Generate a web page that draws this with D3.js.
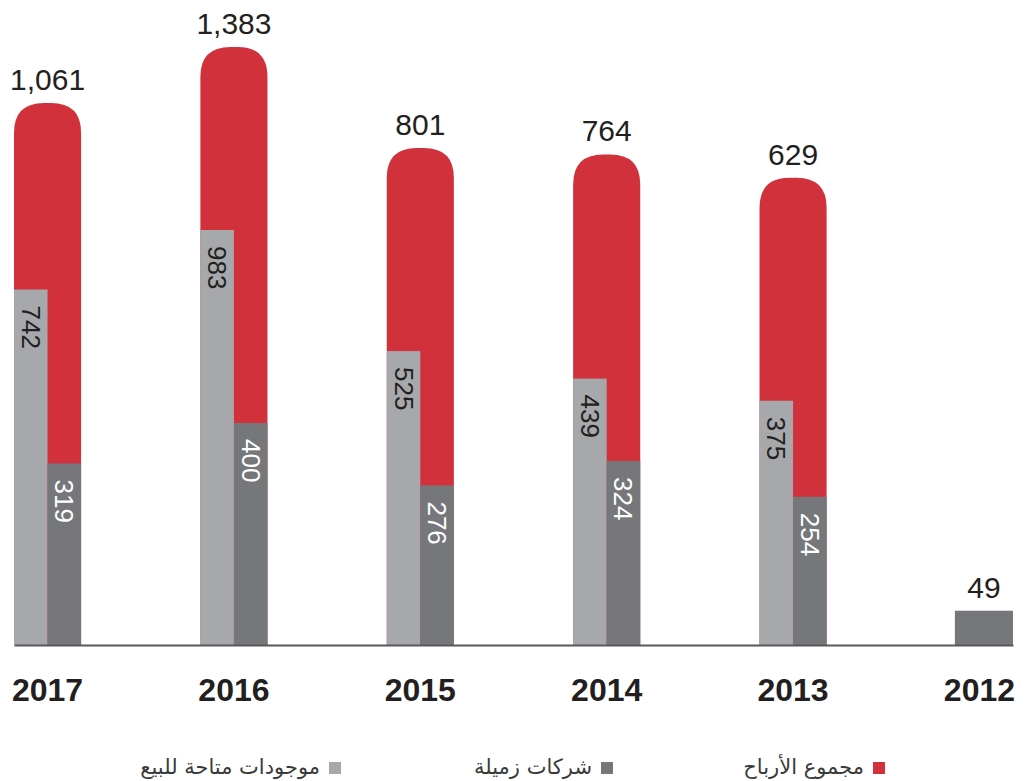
<!DOCTYPE html>
<html>
<head>
<meta charset="utf-8">
<title>مجموع الأرباح</title>
<style>
  body { margin: 0; background: #fff; }
  .axis path { stroke: #58595b; stroke-width: 2px; }
  .axis text { font-family: "Liberation Sans", Arial, sans-serif; font-weight: bold; font-size: 32px; fill: #231f20; }
</style>
</head>
<body>
<div class="container"></div>
<script src="https://cdn.jsdelivr.net/npm/d3@7"></script>
<script>

// data (left to right)
var years = ["2017", "2016", "2015", "2014", "2013", "2012"];
var totals = [1061, 1383, 801, 764, 629, 49];          // مجموع الأرباح
var available = [742, 983, 525, 439, 375, null];      // موجودات متاحة للبيع
var associates = [319, 400, 276, 324, 254, 49];       // شركات زميلة
var legendLabels = ["مجموع الأرباح", "شركات زميلة", "موجودات متاحة للبيع"];

var colRed = "#d1313b", colLight = "#a7a8ac", colDark = "#76777b";
var legendColors = [colRed, colDark, colLight];

var svgWidth = 1025, svgHeight = 781;
var baseY = 645;

var svg = d3.select('.container')
  .append('svg')
  .attr('width', svgWidth)
  .attr('height', svgHeight);

var x = d3.scaleBand()
  .domain(years)
  .range([14, 1013])
  .paddingInner(0.64)
  .paddingOuter(0);

// the original bars are not drawn to one linear scale,
// so each series gets its own scale to look like the picture
var yTotal = d3.scaleLinear().domain([0, 1383]).range([baseY - 358, baseY - 598]);
var yLight = d3.scalePow().exponent(0.55).domain([0, 983]).range([baseY, baseY - 415]);
var yDark = d3.scalePow().exponent(0.89).domain([0, 400]).range([baseY, baseY - 222]);

var rows = years.map(function(y, i) {
  return {year: y, total: totals[i], afs: available[i], assoc: associates[i]};
});

function roundTop(x0, y0, w, h, r) {
  return "M" + x0 + "," + (y0 + h) +
    "V" + (y0 + r) +
    "Q" + x0 + "," + y0 + " " + (x0 + r) + "," + y0 +
    "H" + (x0 + w - r) +
    "Q" + (x0 + w) + "," + y0 + " " + (x0 + w) + "," + (y0 + r) +
    "V" + (y0 + h) + "Z";
}

var g = svg.append("g");

// red total bars (behind)
var withParts = rows.filter(d => d.afs != null);
g.selectAll(".total")
  .data(withParts)
  .enter().append("path")
  .attr("class", "total")
  .attr("fill", colRed)
  .attr("d", d => roundTop(x(d.year), yTotal(d.total), x.bandwidth(), baseY - yTotal(d.total), 30));

// light gray bars
g.selectAll(".afs")
  .data(withParts)
  .enter().append("rect")
  .attr("x", d => x(d.year))
  .attr("y", d => yLight(d.afs))
  .attr("width", x.bandwidth() / 2)
  .attr("height", d => baseY - yLight(d.afs))
  .attr("fill", colLight);

// dark gray bars
g.selectAll(".assoc")
  .data(rows)
  .enter().append("rect")
  .attr("x", d => d.afs != null ? x(d.year) + x.bandwidth() / 2 : x(d.year) + 9)
  .attr("y", d => yDark(d.assoc))
  .attr("width", d => d.afs != null ? x.bandwidth() / 2 : x.bandwidth() - 9)
  .attr("height", d => baseY - yDark(d.assoc))
  .attr("fill", colDark);

// rotated value labels inside bars
var lab = svg.append("g")
  .attr("font-family", "Liberation Sans, Arial, sans-serif")
  .attr("font-size", 26);

lab.selectAll(".lblA")
  .data(withParts)
  .enter().append("text")
  .attr("transform", d => "translate(" + (x(d.year) + x.bandwidth() / 4 - 9) + "," + (yLight(d.afs) + 16) + ") rotate(90)")
  .attr("fill", "#231f20")
  .text(d => d.afs);

lab.selectAll(".lblB")
  .data(withParts)
  .enter().append("text")
  .attr("transform", d => "translate(" + (x(d.year) + x.bandwidth() * 3 / 4 - 9) + "," + (yDark(d.assoc) + 16) + ") rotate(90)")
  .attr("fill", "#ffffff")
  .text(d => d.assoc);

// total labels above
svg.selectAll(".totLbl")
  .data(rows)
  .enter().append("text")
  .attr("x", d => d.afs != null ? x(d.year) + x.bandwidth() / 2 : x(d.year) + 9 + (x.bandwidth() - 9) / 2)
  .attr("y", d => (d.afs != null ? yTotal(d.total) : yDark(d.total)) - 13)
  .attr("text-anchor", "middle")
  .attr("font-family", "Liberation Sans, Arial, sans-serif")
  .attr("font-size", 30)
  .attr("fill", "#231f20")
  .text(d => d3.format(",")(d.total));

// axis with year labels
svg.append("g")
  .attr("class", "axis")
  .attr("transform", `translate(0,${baseY})`)
  .call(d3.axisBottom(x).tickSize(0).tickPadding(33));

// legend (right to left)
var leg = svg.append("g")
  .selectAll("g")
  .data(legendLabels)
  .enter().append("g")
  .attr("transform", (d, i) => `translate(${873 - i * 272},762)`);

leg.append("rect")
  .attr("width", 12)
  .attr("height", 12)
  .attr("fill", (d, i) => legendColors[i]);

leg.append("text")
  .attr("x", -9)
  .attr("y", 12)
  .attr("text-anchor", "end")
  .attr("font-family", "DejaVu Sans, Noto Sans, sans-serif")
  .attr("font-size", 21)
  .attr("fill", "#3a3a3a")
  .text(d => d);

</script>
</body>
</html>
